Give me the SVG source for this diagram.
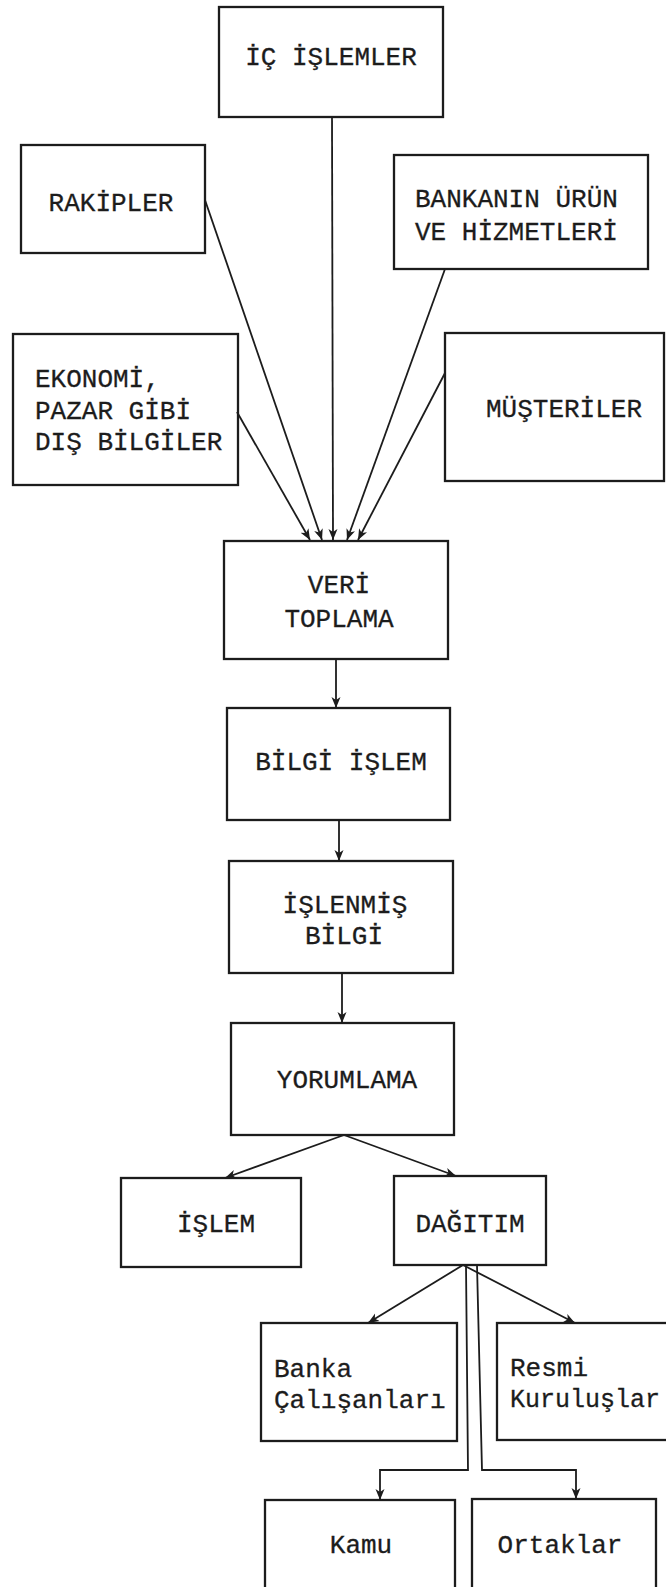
<svg xmlns="http://www.w3.org/2000/svg" width="666" height="1587" viewBox="0 0 666 1587">
<style>
.box{fill:none;stroke:#1c1c1c;stroke-width:2.3}
.t{font-family:"Liberation Mono","Courier New",monospace;font-size:26px;fill:#1c1c1c;stroke:#1c1c1c;stroke-width:0.3}
.m{text-anchor:middle}
.c{fill:none;stroke:#1c1c1c;stroke-width:1.8}
</style>
<defs>
<marker id="ah" markerUnits="userSpaceOnUse" markerWidth="12" markerHeight="12" viewBox="0 0 12 12" refX="11" refY="6" orient="auto">
<path d="M0,1.5 L11,6 L0,10.5 L3,6 Z" fill="#1c1c1c"/>
</marker>
</defs>
<rect width="666" height="1587" fill="#ffffff"/>
<g id="ic-islemler"><rect class="box" x="219" y="7" width="224" height="110"/><text class="t m" x="331" y="65">İÇ İŞLEMLER</text></g>
<g id="rakipler"><rect class="box" x="21" y="145" width="184" height="108"/><text class="t m" x="111" y="211">RAKİPLER</text></g>
<g id="bankanin"><rect class="box" x="394" y="155" width="254" height="114"/><text class="t" x="415" y="207">BANKANIN ÜRÜN</text><text class="t" x="415" y="240">VE HİZMETLERİ</text></g>
<g id="ekonomi"><rect class="box" x="13" y="334" width="225" height="151"/><text class="t" x="35" y="387">EKONOMİ,</text><text class="t" x="35" y="419">PAZAR GİBİ</text><text class="t" x="35" y="450">DIŞ BİLGİLER</text></g>
<g id="musteriler"><rect class="box" x="445" y="333" width="219" height="148"/><text class="t m" x="564" y="417">MÜŞTERİLER</text></g>
<g id="veri-toplama"><rect class="box" x="224" y="541" width="224" height="118"/><text class="t m" x="339" y="593">VERİ</text><text class="t m" x="339" y="627">TOPLAMA</text></g>
<g id="bilgi-islem"><rect class="box" x="227" y="708" width="223" height="112"/><text class="t m" x="341" y="770">BİLGİ İŞLEM</text></g>
<g id="islenmis-bilgi"><rect class="box" x="229" y="861" width="224" height="112"/><text class="t m" x="345" y="913">İŞLENMİŞ</text><text class="t m" x="344" y="944">BİLGİ</text></g>
<g id="yorumlama"><rect class="box" x="231" y="1023" width="223" height="112"/><text class="t m" x="347" y="1088">YORUMLAMA</text></g>
<g id="islem"><rect class="box" x="121" y="1178" width="180" height="89"/><text class="t m" x="216" y="1232">İŞLEM</text></g>
<g id="dagitim"><rect class="box" x="394" y="1176" width="152" height="89"/><text class="t m" x="470" y="1232">DAĞITIM</text></g>
<g id="banka-calisanlari"><rect class="box" x="261" y="1323" width="196" height="118"/><text class="t" x="274" y="1377">Banka</text><text class="t" x="274" y="1408">Çalışanları</text></g>
<g id="resmi-kuruluslar"><rect class="box" x="497" y="1323" width="200" height="117"/><text class="t" x="510" y="1376">Resmi</text><text class="t" x="510" y="1407" textLength="150" lengthAdjust="spacingAndGlyphs">Kuruluşlar</text></g>
<g id="kamu"><rect class="box" x="265" y="1500" width="190" height="100"/><text class="t m" x="361" y="1553">Kamu</text></g>
<g id="ortaklar"><rect class="box" x="472" y="1499" width="184" height="100"/><text class="t m" x="560" y="1553">Ortaklar</text></g>
<g id="connectors">
<path class="c" d="M332,117 L333,540" marker-end="url(#ah)"/>
<path class="c" d="M205,200 L322,540" marker-end="url(#ah)"/>
<path class="c" d="M445,269 L347,540" marker-end="url(#ah)"/>
<path class="c" d="M237,412 L310,540" marker-end="url(#ah)"/>
<path class="c" d="M445,373 L358,540" marker-end="url(#ah)"/>
<path class="c" d="M336,659 L336,708" marker-end="url(#ah)"/>
<path class="c" d="M339,820 L339,861" marker-end="url(#ah)"/>
<path class="c" d="M342,973 L342,1023" marker-end="url(#ah)"/>
<path class="c" d="M344,1135 L225,1178" marker-end="url(#ah)"/>
<path class="c" d="M344,1135 L456,1176" marker-end="url(#ah)"/>
<path class="c" d="M463,1265 L368,1323" marker-end="url(#ah)"/>
<path class="c" d="M463,1265 L575,1323" marker-end="url(#ah)"/>
<path class="c" d="M466,1265 L468,1470 L380,1470 L380,1500" marker-end="url(#ah)"/>
<path class="c" d="M477,1265 L482,1470 L576,1470 L576,1499" marker-end="url(#ah)"/>
</g>
</svg>
